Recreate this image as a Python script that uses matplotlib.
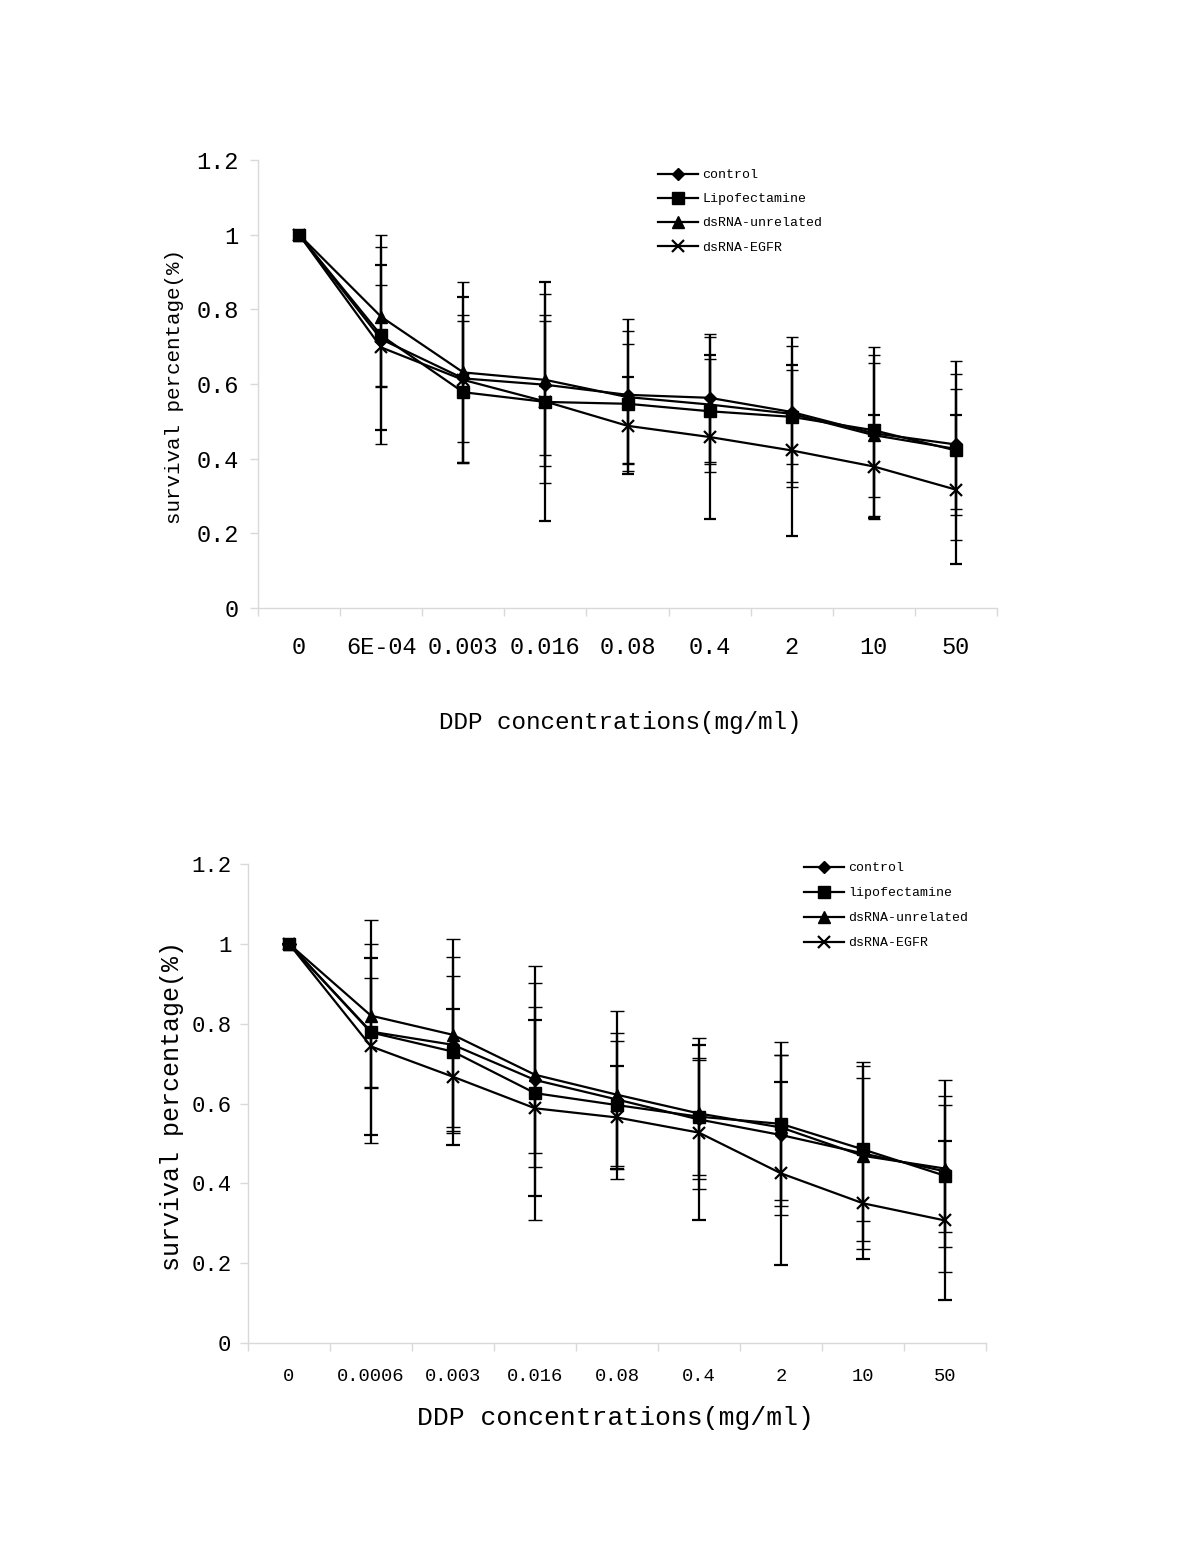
import matplotlib
matplotlib.use("Agg")
import matplotlib.pyplot as plt
from matplotlib.lines import Line2D
import numpy as np

# ---------------- data ----------------
cats_top = ['0', '6E-04', '0.003', '0.016', '0.08', '0.4', '2', '10', '50']
cats_bot = ['0', '0.0006', '0.003', '0.016', '0.08', '0.4', '2', '10', '50']
series_names_top = ['control', 'Lipofectamine', 'dsRNA-unrelated', 'dsRNA-EGFR']
series_names_bot = ['control', 'lipofectamine', 'dsRNA-unrelated', 'dsRNA-EGFR']

top_control = [1.0, 0.72, 0.615, 0.598, 0.571, 0.563, 0.525, 0.468, 0.438]
top_control_err = [0, 0.28, 0.17, 0.187, 0.204, 0.172, 0.2, 0.23, 0.189]
top_lipo = [1.0, 0.73, 0.578, 0.552, 0.547, 0.527, 0.512, 0.476, 0.422]
top_lipo_err = [0, 0.135, 0.19, 0.218, 0.16, 0.14, 0.125, 0.18, 0.239]
top_unrel = [1.0, 0.78, 0.631, 0.611, 0.565, 0.545, 0.52, 0.463, 0.426]
top_unrel_err = [0, 0.187, 0.241, 0.23, 0.176, 0.18, 0.183, 0.216, 0.16]
top_egfr = [1.0, 0.698, 0.611, 0.553, 0.488, 0.458, 0.422, 0.379, 0.317]
top_egfr_err = [0, 0.22, 0.222, 0.319, 0.13, 0.219, 0.228, 0.137, 0.2]

bot_control = [1.0, 0.78, 0.747, 0.659, 0.61, 0.56, 0.521, 0.475, 0.43]
bot_control_err = [0, 0.28, 0.22, 0.184, 0.167, 0.15, 0.2, 0.22, 0.19]
bot_lipo = [1.0, 0.778, 0.73, 0.626, 0.596, 0.567, 0.549, 0.485, 0.419]
bot_lipo_err = [0, 0.136, 0.19, 0.318, 0.16, 0.146, 0.206, 0.18, 0.24]
bot_unrel = [1.0, 0.82, 0.772, 0.672, 0.622, 0.575, 0.54, 0.469, 0.437]
bot_unrel_err = [0, 0.18, 0.24, 0.23, 0.21, 0.19, 0.182, 0.234, 0.16]
bot_egfr = [1.0, 0.743, 0.667, 0.588, 0.565, 0.527, 0.425, 0.35, 0.307]
bot_egfr_err = [0, 0.221, 0.17, 0.22, 0.13, 0.22, 0.23, 0.14, 0.2]

yticks = [0, 0.2, 0.4, 0.6, 0.8, 1, 1.2]
ytick_labels = ['0', '0.2', '0.4', '0.6', '0.8', '1', '1.2']

xlabel = 'DDP concentrations(mg/ml)'
ylabel = 'survival percentage(%)'

# ---------------- styling ----------------
FONT = ['Liberation Mono', 'DejaVu Sans Mono']
plt.rcParams['font.family'] = FONT
W, H = 1200, 1553
fig = plt.figure(figsize=(W / 100, H / 100), dpi=100)
GRAY = '#d9d9d9'
markers = ['D', 's', '^', 'x']
msizes = [6.5, 8, 8, 8]


def make_panel(rect, cats, data, errs, names, ytick_fs, xtick_fs, capsize,
               xpad, ypad, leg_anchor, leg_spacing):
    ax = fig.add_axes(rect)
    x = np.arange(len(cats))
    for vals, err, name, m, ms in zip(data, errs, names, markers, msizes):
        ax.errorbar(x, vals, yerr=err, color='black', lw=1.6, marker=m,
                    markersize=ms, mew=1.6 if m == 'x' else 1.0,
                    capsize=capsize, capthick=1.6, elinewidth=1.6, label=name)
    ax.set_xlim(-0.5, len(cats) - 0.5)
    ax.set_ylim(0, 1.2)
    ax.set_yticks(yticks)
    ax.set_yticklabels(ytick_labels, fontsize=ytick_fs)
    ax.set_xticks(x)
    ax.set_xticklabels(cats, fontsize=xtick_fs)
    ax.set_xticks(np.arange(len(cats) + 1) - 0.5, minor=True)
    ax.tick_params(axis='x', which='major', length=0, pad=xpad)
    ax.tick_params(axis='x', which='minor', length=6, color=GRAY, width=1)
    ax.tick_params(axis='y', which='major', length=6, color=GRAY, width=1, pad=ypad)
    for s in ['top', 'right']:
        ax.spines[s].set_visible(False)
    for s in ['left', 'bottom']:
        ax.spines[s].set_color(GRAY)
        ax.spines[s].set_linewidth(1)
    ax.set_facecolor('white')
    handles = []
    for name, m, ms in zip(names, markers, msizes):
        handles.append(Line2D([], [], color='black', lw=1.6, marker=m,
                              markersize=ms, mew=1.6 if m == 'x' else 1.0))
    fig.legend(handles, names, loc='upper left', bbox_to_anchor=leg_anchor,
               frameon=False, fontsize=9.5, handlelength=3.0, handletextpad=0.35,
               labelspacing=leg_spacing, borderpad=0, borderaxespad=0)
    return ax


def fx(px):
    return px / W


def fy(py):
    return 1 - py / H


ax1 = make_panel([fx(258), fy(608), fx(997 - 258), (608 - 160) / H],
                 cats_top,
                 [top_control, top_lipo, top_unrel, top_egfr],
                 [top_control_err, top_lipo_err, top_unrel_err, top_egfr_err],
                 series_names_top, 17, 17, 4.0, 20.5, 8,
                 (fx(658), fy(169)), 0.9)
fig.text(fx(620), fy(722), xlabel, ha='center', va='center', fontsize=17.5)
fig.text(fx(174), fy(386), ylabel, ha='center', va='center', rotation=90,
         fontsize=15)

ax2 = make_panel([fx(248), fy(1343), fx(986 - 248), (1343 - 864) / H],
                 cats_bot,
                 [bot_control, bot_lipo, bot_unrel, bot_egfr],
                 [bot_control_err, bot_lipo_err, bot_unrel_err, bot_egfr_err],
                 series_names_bot, 16, 13.5, 4.7, 18, 6,
                 (fx(804), fy(862)), 0.97)
fig.text(fx(615), fy(1418), xlabel, ha='center', va='center', fontsize=19)
fig.text(fx(172), fy(1106), ylabel, ha='center', va='center', rotation=90,
         fontsize=18)

fig.savefig('out.png', dpi=100, facecolor='white')
